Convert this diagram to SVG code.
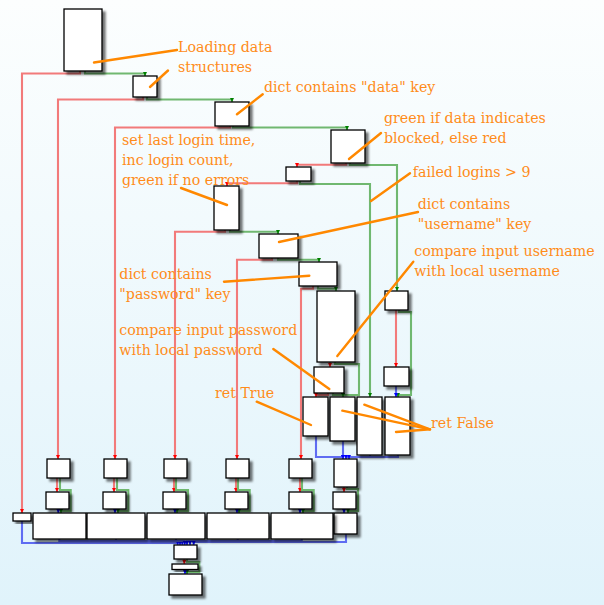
<svg xmlns="http://www.w3.org/2000/svg" width="604" height="605" viewBox="0 0 604 605">
<defs>
<linearGradient id="bg" x1="0" y1="0" x2="0" y2="1">
<stop offset="0" stop-color="#fcfefe"/>
<stop offset="1" stop-color="#e0f3fb"/>
</linearGradient>
<filter id="sh" x="-30%" y="-30%" width="160%" height="160%">
<feDropShadow dx="3" dy="3" stdDeviation="1.2" flood-color="#000" flood-opacity="0.55"/>
</filter>
<marker id="ar" markerUnits="userSpaceOnUse" markerWidth="5" markerHeight="5" refX="4" refY="2" orient="auto"><path d="M0,0 L4,2 L0,4 z" fill="#ff0000"/></marker>
<marker id="ag" markerUnits="userSpaceOnUse" markerWidth="5" markerHeight="5" refX="4" refY="2" orient="auto"><path d="M0,0 L4,2 L0,4 z" fill="#008000"/></marker>
<marker id="ab" markerUnits="userSpaceOnUse" markerWidth="5" markerHeight="5" refX="4" refY="2" orient="auto"><path d="M0,0 L4,2 L0,4 z" fill="#0000ff"/></marker>
</defs>
<style>
.e{fill:none;stroke-width:2.1;stroke-linejoin:miter}
.r{stroke:#f27a7a;marker-end:url(#ar)}
.g{stroke:#70b870;marker-end:url(#ag)}
.b{stroke:#5f6cf2;marker-end:url(#ab)}
.n rect{fill:#ffffff;stroke:#000;stroke-width:1.3;filter:url(#sh)}
.al{stroke:#ff8800;stroke-width:2.4;stroke-linecap:round;fill:none}
.t{font-family:"DejaVu Serif","Liberation Serif",serif;font-size:14.2px;fill:#ff8c1a}
</style>
<rect x="0" y="0" width="604" height="605" fill="url(#bg)"/>
<g id="connectors">
<polyline class="e r" points="80,71 80,73.5 22,73.5 22,513"/>
<polyline class="e g" points="85,71 85,73.5 145,73.5 145,76"/>
<polyline class="e r" points="143,97 143,99.5 58,99.5 58,459"/>
<polyline class="e g" points="147,97 147,99.5 232,99.5 232,102"/>
<polyline class="e r" points="230,126 230,127.5 115,127.5 115,459"/>
<polyline class="e g" points="233,126 233,127.5 347,127.5 347,130"/>
<polyline class="e r" points="346,163 346,164.7 297,164.7 297,167"/>
<polyline class="e g" points="350,163 350,165 397,165 397,291"/>
<polyline class="e r" points="297,181 297,183.3 227,183.3 227,186"/>
<polyline class="e g" points="300,181 300,184 370,184 370,397"/>
<polyline class="e r" points="225,230 225,231.7 175,231.7 175,459"/>
<polyline class="e g" points="230,230 230,231.7 278,231.7 278,234"/>
<polyline class="e r" points="272,258 272,259.7 237,259.7 237,459"/>
<polyline class="e g" points="278,258 278,259.7 319,259.7 319,262"/>
<polyline class="e r" points="313,286 313,288.7 301,288.7 301,459"/>
<polyline class="e g" points="318,286 318,288.7 336,288.7 336,291"/>
<polyline class="e r" points="330,362 330,367"/>
<polyline class="e g" points="335,362 335,364 359,364 359,395 343,395 343,397"/>
<polyline class="e r" points="328,393 328,395 316,395 316,397"/>
<polyline class="e g" points="333,393 333,395 343,395 343,397"/>
<polyline class="e r" points="396,310 396,367"/>
<polyline class="e g" points="399,310 399,312 411,312 411,395 398,395 398,397"/>
<polyline class="e b" points="396,386 396,397"/>
<polyline class="e b" points="316,436 316,457 343,457 343,459"/>
<polyline class="e b" points="343,441 343,459"/>
<polyline class="e b" points="370,455 370,457 346,457 346,459"/>
<polyline class="e b" points="398,455 398,457 349,457 349,459"/>
<polyline class="e r" points="344,487 344,492"/>
<polyline class="e g" points="347,487 347,489 358,489 358,511 348,511 348,513"/>
<polyline class="e b" points="344,509 344,513"/>
<polyline class="e r" points="57,478 57,492"/>
<polyline class="e g" points="60,478 60,490 70.7,490 70.7,511 61,511 61,513"/>
<polyline class="e b" points="58.3,509 58.3,513"/>
<polyline class="e r" points="114,478 114,492"/>
<polyline class="e g" points="117,478 117,490 128.3,490 128.3,511 118,511 118,513"/>
<polyline class="e b" points="115,509 115,513"/>
<polyline class="e r" points="174,478 174,492"/>
<polyline class="e g" points="176,478 176,490 188,490 188,511 177,511 177,513"/>
<polyline class="e b" points="175,509 175,513"/>
<polyline class="e r" points="236,478 236,492"/>
<polyline class="e g" points="238,478 238,490 249.7,490 249.7,511 239,511 239,513"/>
<polyline class="e b" points="237,509 237,513"/>
<polyline class="e r" points="300,478 300,492"/>
<polyline class="e g" points="302,478 302,490 313.7,490 313.7,511 303,511 303,513"/>
<polyline class="e b" points="300,509 300,513"/>
<polyline class="e b" points="22,521 22,543 177.7,543 177.7,545"/>
<polyline class="e b" points="59.3,539 59.3,541 180,541 180,545"/>
<polyline class="e b" points="116,539 116,541 182.3,541 182.3,545"/>
<polyline class="e b" points="176,539 176,541 184.7,541 184.7,545"/>
<polyline class="e b" points="237.7,539 237.7,541 187,541 187,545"/>
<polyline class="e b" points="301.7,539 301.7,541 190,541 190,545"/>
<polyline class="e b" points="346,534 346,542 193.7,542 193.7,545"/>
<polyline class="e r" points="184.3,559 184.3,564"/>
<polyline class="e g" points="187,559 187,562 199.3,562 199.3,572 187,572 187,574"/>
<polyline class="e b" points="185,569.7 185,574"/>
</g>
<g id="n1" class="n"><rect x="64" y="9" width="38" height="62"/></g>
<g id="n2" class="n"><rect x="133" y="76" width="24" height="21"/></g>
<g id="n3" class="n"><rect x="215" y="102" width="34" height="24"/></g>
<g id="n4" class="n"><rect x="331" y="130" width="34" height="33"/></g>
<g id="n5" class="n"><rect x="286" y="167" width="25" height="14"/></g>
<g id="n6" class="n"><rect x="214" y="186" width="25" height="44"/></g>
<g id="n7" class="n"><rect x="259" y="234" width="39" height="24"/></g>
<g id="n8" class="n"><rect x="299" y="262" width="38" height="24"/></g>
<g id="n9" class="n"><rect x="317" y="291" width="38" height="71"/></g>
<g id="n10" class="n"><rect x="314" y="367" width="30" height="26"/></g>
<g id="r1" class="n"><rect x="385" y="291" width="23" height="19"/></g>
<g id="r2" class="n"><rect x="384" y="367" width="25" height="19"/></g>
<g id="b1" class="n"><rect x="303" y="397" width="25" height="39"/></g>
<g id="b2" class="n"><rect x="330" y="397" width="25" height="44"/></g>
<g id="b3" class="n"><rect x="357" y="397" width="25" height="58"/></g>
<g id="b4" class="n"><rect x="385" y="397" width="25" height="58"/></g>
<g id="n11" class="n"><rect x="334" y="459" width="23" height="28"/></g>
<g id="n12" class="n"><rect x="333" y="492" width="23" height="17"/></g>
<g id="n13" class="n"><rect x="334" y="513" width="23" height="21"/></g>
<g id="c1a" class="n"><rect x="47" y="459" width="23" height="19"/></g>
<g id="c1b" class="n"><rect x="46" y="492" width="23" height="17"/></g>
<g id="c2a" class="n"><rect x="104" y="459" width="23" height="19"/></g>
<g id="c2b" class="n"><rect x="103" y="492" width="23" height="17"/></g>
<g id="c3a" class="n"><rect x="164" y="459" width="23" height="19"/></g>
<g id="c3b" class="n"><rect x="163" y="492" width="23" height="17"/></g>
<g id="c4a" class="n"><rect x="226" y="459" width="23" height="19"/></g>
<g id="c4b" class="n"><rect x="225" y="492" width="23" height="17"/></g>
<g id="c5a" class="n"><rect x="289" y="459" width="23" height="19"/></g>
<g id="c5b" class="n"><rect x="289" y="492" width="23" height="17"/></g>
<g id="s0" class="n"><rect x="13" y="513" width="18" height="8"/></g>
<g id="w1" class="n"><rect x="33" y="513" width="53" height="26"/></g>
<g id="w2" class="n"><rect x="87" y="513" width="58" height="26"/></g>
<g id="w3" class="n"><rect x="147" y="513" width="58" height="26"/></g>
<g id="w4" class="n"><rect x="207" y="513" width="62" height="26"/></g>
<g id="w5" class="n"><rect x="271" y="513" width="62" height="26"/></g>
<g id="e1" class="n"><rect x="174" y="545" width="23" height="14"/></g>
<g id="e2" class="n"><rect x="172" y="564" width="26" height="5.5"/></g>
<g id="e3" class="n"><rect x="169" y="574" width="33" height="21"/></g>
<g id="annotations">
<line class="al" x1="94" y1="62.5" x2="177" y2="50"/>
<line class="al" x1="150" y1="87" x2="168" y2="70.5"/>
<line class="al" x1="237" y1="114.3" x2="262.7" y2="94.3"/>
<line class="al" x1="349" y1="159" x2="381" y2="133"/>
<line class="al" x1="181" y1="188" x2="227" y2="205"/>
<line class="al" x1="371" y1="201" x2="410" y2="173.3"/>
<line class="al" x1="279" y1="242" x2="418" y2="212"/>
<line class="al" x1="337.3" y1="356" x2="413.3" y2="261.7"/>
<line class="al" x1="224" y1="281.7" x2="309.3" y2="275.7"/>
<line class="al" x1="273.3" y1="349" x2="329.3" y2="389"/>
<line class="al" x1="256.7" y1="401.7" x2="311" y2="425"/>
<line class="al" x1="342.3" y1="410.7" x2="430" y2="429.3"/>
<line class="al" x1="364.3" y1="404.7" x2="430" y2="429.3"/>
<line class="al" x1="396" y1="432" x2="430" y2="429.3"/>
<text class="t" x="178" y="52">Loading data</text>
<text class="t" x="178" y="72">structures</text>
<text class="t" x="264" y="91.5">dict contains "data" key</text>
<text class="t" x="384" y="123.3">green if data indicates</text>
<text class="t" x="384" y="143.3">blocked, else red</text>
<text class="t" x="122" y="145">set last login time,</text>
<text class="t" x="122" y="165">inc login count,</text>
<text class="t" x="122" y="185">green if no errors</text>
<text class="t" x="412.7" y="177.3">failed logins &gt; 9</text>
<text class="t" x="417.7" y="209.3">dict contains</text>
<text class="t" x="417.7" y="229.3">"username" key</text>
<text class="t" x="414.3" y="255.7">compare input username</text>
<text class="t" x="414.3" y="275.7">with local username</text>
<text class="t" x="119.3" y="279.3">dict contains</text>
<text class="t" x="119.3" y="299.3">"password" key</text>
<text class="t" x="119.3" y="335">compare input password</text>
<text class="t" x="119.3" y="355">with local password</text>
<text class="t" x="215" y="398.3">ret True</text>
<text class="t" x="431" y="428.3">ret False</text>
</g>
</svg>
